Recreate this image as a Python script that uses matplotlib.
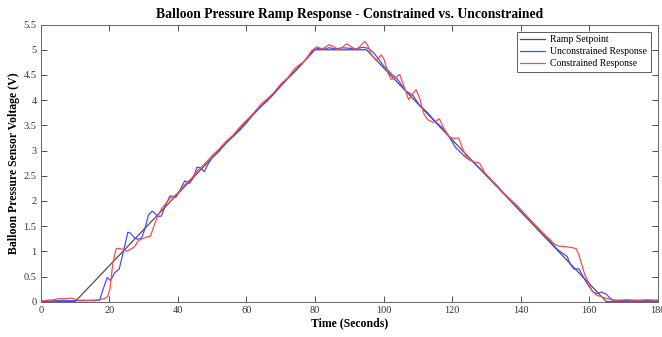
import matplotlib
matplotlib.use("Agg")
import matplotlib.pyplot as plt

plt.rcParams['font.family'] = ['Liberation Serif', 'DejaVu Serif']

# Ramp setpoint breakpoints
ramp_t = [0, 10, 80, 95, 165, 180]
ramp_v = [0, 0, 5, 5, 0, 0]

# Unconstrained response (blue)
unc_t = [0, 2, 4, 6, 8, 10, 12, 14, 16, 17.2, 18.2, 19.4, 20.4, 21.5, 22.9, 23.6, 24.3,
         25.4, 26.2, 27.2, 28.2, 29.4, 30.4, 31.4, 32.5, 33.5, 34.2, 35.2, 36.3, 37.7,
         38.5, 39.4, 40.5, 42.0, 43.4, 44.4, 45.6, 46.6, 47.7, 48.8, 50, 52, 54, 56, 58,
         60, 62, 64, 66, 68, 70, 72, 74, 76, 78, 79.5, 81, 82.5, 84, 86, 88, 90, 92, 94,
         95.5, 97, 98.5, 100, 102, 104, 106.5, 108.5, 110.5, 113, 115, 118, 121, 124, 126,
         129, 131, 133, 135, 137, 139, 141, 143, 145, 147, 149, 150.5, 152, 153.5, 154.5,
         155.5, 157, 158, 159, 160, 161, 162, 163.5, 165, 166, 167, 169, 172, 175, 178, 180]
unc_v = [0.01, 0.01, 0.02, 0.02, 0.02, 0.02, 0.02, 0.02, 0.02, 0.03, 0.25, 0.48, 0.42, 0.57,
         0.65, 0.85, 1.05, 1.38, 1.36, 1.28, 1.24, 1.26, 1.45, 1.72, 1.80, 1.74, 1.69, 1.70,
         1.90, 2.10, 2.09, 2.07, 2.20, 2.40, 2.35, 2.45, 2.67, 2.66, 2.58, 2.73, 2.86, 2.98,
         3.15, 3.27, 3.40, 3.55, 3.72, 3.86, 3.98, 4.12, 4.28, 4.43, 4.56, 4.70, 4.86, 5.00,
         5.03, 5.01, 5.04, 5.02, 5.04, 5.03, 5.02, 5.05, 5.03, 4.95, 4.82, 4.68, 4.54, 4.42,
         4.18, 4.10, 3.90, 3.74, 3.58, 3.40, 3.06, 2.86, 2.78, 2.58, 2.44, 2.31, 2.16, 2.03,
         1.89, 1.75, 1.61, 1.46, 1.32, 1.17, 1.05, 0.97, 0.90, 0.74, 0.65, 0.65, 0.52, 0.40,
         0.30, 0.20, 0.16, 0.19, 0.15, 0.07, 0.02, 0.02, 0.02, 0.02, 0.02, 0.02]

# Constrained response (red)
con_t = [0, 2, 4, 5, 7, 9, 10, 11, 13, 15, 17, 18.5, 19.5, 20.2, 21.0, 22.0, 22.5, 24.0,
         25.0, 25.6, 26.5, 27.5, 28.3, 29.5, 30.8, 32.0, 33.0, 34.1, 35.3, 36.5, 37.7, 39.0,
         40.6, 42, 44, 46, 48, 50, 52, 54, 56, 58, 60, 62, 64, 65, 66, 68, 70, 72, 74, 75,
         77, 79, 80.5, 82, 83, 84, 85.5, 86.8, 88, 89.2, 90.6, 92, 93.3, 94.5, 95.3, 96.2,
         97.8, 98.6, 99.3, 100.2, 101.2, 102.2, 103.5, 104.7, 105.8, 107.3, 108.4, 109.5,
         110.6, 111.8, 112.9, 114.5, 116.3, 117.5, 118.8, 120.3, 121.9, 123.1, 124.3, 126.2,
         128, 129.5, 131, 133, 135, 137, 139, 141, 143, 145, 147, 148.6, 150, 151.4, 153.4,
         155.3, 156.2, 156.8, 157.7, 158.7, 159.7, 160.6, 162.1, 163.5, 165, 166.4, 168, 171,
         174, 177, 180]
con_v = [0.01, 0.03, 0.04, 0.06, 0.06, 0.07, 0.05, 0.03, 0.03, 0.03, 0.04, 0.06, 0.10, 0.25,
         0.75, 1.05, 1.06, 1.04, 1.00, 1.02, 1.05, 1.10, 1.20, 1.25, 1.28, 1.30, 1.50, 1.70,
         1.85, 1.95, 2.05, 2.10, 2.20, 2.32, 2.45, 2.62, 2.75, 2.90, 3.03, 3.18, 3.30, 3.46,
         3.60, 3.74, 3.90, 3.97, 4.02, 4.15, 4.32, 4.44, 4.62, 4.68, 4.78, 4.98, 5.06, 5.02,
         5.05, 5.10, 5.06, 5.00, 5.05, 5.12, 5.06, 5.00, 5.08, 5.17, 5.10, 4.93,
         4.79, 4.84, 4.90, 4.80, 4.55, 4.41, 4.45, 4.51, 4.30, 4.01, 4.12, 4.21,
         4.02, 3.72, 3.61, 3.56, 3.63, 3.45, 3.29, 3.24, 3.25, 3.03, 2.85, 2.78,
         2.75, 2.56, 2.45, 2.30, 2.15, 2.02, 1.90, 1.75, 1.60, 1.47, 1.33, 1.23, 1.13, 1.10,
         1.09, 1.07, 1.05, 0.96, 0.76, 0.53, 0.40, 0.23, 0.13, 0.10, 0.066, 0.04, 0.03, 0.04,
         0.03, 0.04, 0.03]

x_ticks = [0, 20, 40, 60, 80, 100, 120, 140, 160, 180]
y_ticks = [0, 0.5, 1, 1.5, 2, 2.5, 3, 3.5, 4, 4.5, 5, 5.5]
y_tick_labels = ['0', '0.5', '1', '1.5', '2', '2.5', '3', '3.5', '4', '4.5', '5', '5.5']

fig = plt.figure(figsize=(6.62, 3.37), dpi=100)
ax = fig.add_axes([0.0615, 0.1047, 0.9323, 0.8223])

ax.plot(ramp_t, ramp_v, color='#505050', lw=0.9, label='Ramp Setpoint')
ax.plot(unc_t, unc_v, color='#4a4aff', lw=0.9, label='Unconstrained Response')
ax.plot(con_t, con_v, color='#ff4a4a', lw=0.9, label='Constrained Response')

ax.set_xlim(0, 180)
ax.set_ylim(0, 5.5)
ax.set_xticks(x_ticks)
ax.set_yticks(y_ticks)
ax.set_yticklabels(y_tick_labels)
ax.tick_params(direction='in', top=True, right=True, length=4, width=0.6,
               labelsize=7.5, colors='#333333', pad=3)
for s in ax.spines.values():
    s.set_color('#666666')
    s.set_linewidth(0.7)

ax.set_title('Balloon Pressure Ramp Response - Constrained vs. Unconstrained',
             fontsize=9.8, fontweight='bold', pad=5)
ax.set_xlabel('Time (Seconds)', fontsize=8.5, fontweight='bold', labelpad=2)
ax.set_ylabel('Balloon Pressure Sensor Voltage (V)', fontsize=8.5, fontweight='bold')
ax.yaxis.set_label_coords(-0.033, 0.5)

leg = ax.legend(loc='upper right', fontsize=7, frameon=True, fancybox=False,
                borderpad=0.35, labelspacing=0.3, handlelength=2.6, handletextpad=0.5,
                borderaxespad=0.75)
leg.get_frame().set_edgecolor('#333333')
leg.get_frame().set_linewidth(0.7)

fig.savefig('out.png', dpi=100)
